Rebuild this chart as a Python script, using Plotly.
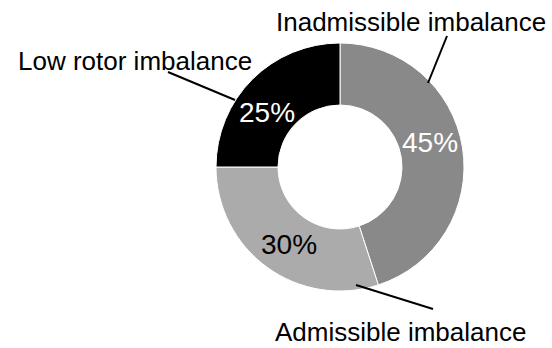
import plotly.graph_objects as go

# Data
categories = ["Inadmissible imbalance", "Admissible imbalance", "Low rotor imbalance"]
values = [45, 30, 25]

# Styles
slice_colors = ["#898989", "#ababab", "#000000"]
pct_colors = ["#ffffff", "#000000", "#ffffff"]
FONT = "Arial, Liberation Sans, sans-serif"
W, H = 552, 348

# Label positions (pixels, from top-left)
label_pos = [(410.5, 22), (400, None), (134.5, 61)]
pct_pos = [(430, 142), (289, 245), (267, 112)]
leader_lines = [((447, 36), (428, 83)), ((433, 309), (356, 285)), ((168, 72), (235, 100))]

cx, cy, r = 340, 167, 124

fig = go.Figure(go.Pie(
    labels=categories,
    values=values,
    hole=0.5,
    sort=False,
    direction="clockwise",
    rotation=0,
    marker=dict(colors=slice_colors, line=dict(color="#ffffff", width=1)),
    textinfo="none",
    hoverinfo="label+percent",
    showlegend=False,
    domain=dict(x=[(cx - r) / W, (cx + r) / W], y=[(H - cy - r) / H, (H - cy + r) / H]),
))

total = sum(values)
for v, (px, py), col in zip(values, pct_pos, pct_colors):
    fig.add_annotation(text=f"{round(100 * v / total)}%", x=px / W, y=1 - py / H,
                       xref="paper", yref="paper", xanchor="center", yanchor="middle",
                       showarrow=False, font=dict(family=FONT, size=28, color=col))

for name, (px, py) in zip(categories, label_pos):
    if py is None:
        fig.add_annotation(text=name, x=px / W, y=0, xref="paper", yref="paper",
                           xanchor="center", yanchor="bottom", showarrow=False, borderpad=0,
                           font=dict(family=FONT, size=26, color="#000000"))
    else:
        fig.add_annotation(text=name, x=px / W, y=1 - py / H, xref="paper", yref="paper",
                           xanchor="center", yanchor="middle", showarrow=False,
                           font=dict(family=FONT, size=26, color="#000000"))

for (x0, y0), (x1, y1) in leader_lines:
    fig.add_shape(type="line", xref="paper", yref="paper",
                  x0=x0 / W, y0=1 - y0 / H, x1=x1 / W, y1=1 - y1 / H,
                  line=dict(color="#000000", width=2))

fig.update_layout(width=W, height=H, margin=dict(l=0, r=0, t=0, b=0),
                  paper_bgcolor="white", plot_bgcolor="white")
fig.write_html("out.html")
